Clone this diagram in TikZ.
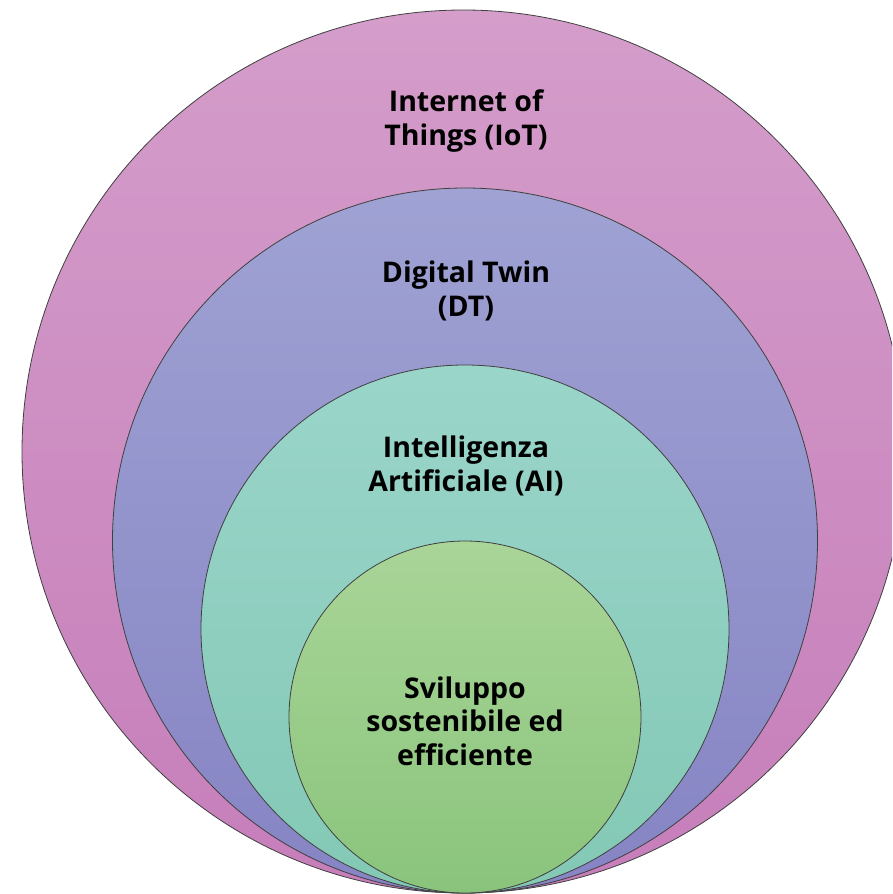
\documentclass[tikz,border=0pt]{standalone}
\usepackage{fontspec}
\setmainfont{Open Sans}
\definecolor{pinkT}{HTML}{D49DCA}
\definecolor{pinkB}{HTML}{C67EBA}
\definecolor{blueT}{HTML}{9FA2D3}
\definecolor{blueB}{HTML}{8684C4}
\definecolor{tealT}{HTML}{9AD5CA}
\definecolor{tealB}{HTML}{83C8B5}
\definecolor{greenT}{HTML}{A9D598}
\definecolor{greenB}{HTML}{8AC47C}
\definecolor{edge}{HTML}{404040}
\begin{document}
\begin{tikzpicture}[x=1pt,y=-1pt,
  ring/.style={circle, draw=edge, line width=0.8pt, inner sep=0pt},
  lbl/.style={align=center, font=\fontsize{28.5}{33.5}\selectfont\bfseries, text=black}]
\useasboundingbox (0,0) rectangle (892,894);
\clip (0,0) rectangle (892,894);
\node[ring, minimum size=883pt, top color=pinkT, bottom color=pinkB] (iot) at (463.5,451.5) {};
\node[ring, minimum size=705pt, top color=blueT, bottom color=blueB] (dt) at (465,540.5) {};
\node[ring, minimum size=528pt, top color=tealT, bottom color=tealB] (ai) at (465,629) {};
\node[ring, minimum size=352pt, top color=greenT, bottom color=greenB] (sv) at (465,717) {};
\node[lbl] (tiot) at (466,121) {Internet of\\Things (IoT)};
\node[lbl] (tdt) at (466,291) {Digital Twin\\(DT)};
\node[lbl] (tai) at (466,466) {Intelligenza\\Artificiale (AI)};
\node[lbl] (tsv) at (465,721) {Sviluppo\\sostenibile ed\\efficiente};
\end{tikzpicture}
\end{document}
